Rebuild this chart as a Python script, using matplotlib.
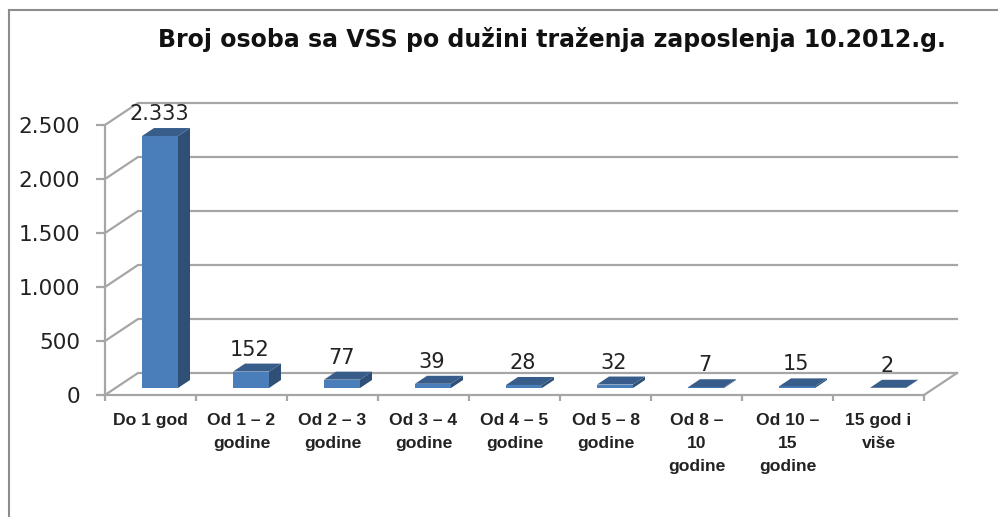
import matplotlib
matplotlib.use("Agg")
import matplotlib.pyplot as plt
from matplotlib.patches import Polygon

# Дані з діаграми
categories = ["Do 1 god", "Od 1 – 2\ngodine", "Od 2 – 3\ngodine", "Od 3 – 4\ngodine",
              "Od 4 – 5\ngodine", "Od 5 – 8\ngodine", "Od 8 –\n10\ngodine",
              "Od 10 –\n15\ngodine", "15 god i\nviše"]
values = [2333, 152, 77, 39, 28, 32, 7, 15, 2]
value_labels = ["2.333", "152", "77", "39", "28", "32", "7", "15", "2"]
y_ticks = [0, 500, 1000, 1500, 2000, 2500]
y_tick_labels = ["0", "500", "1.000", "1.500", "2.000", "2.500"]
title = "Broj osoba sa VSS po dužini traženja zaposlenja 10.2012.g."

W, H = 998, 517
GRAY = "#a6a6a6"
FRONT = "#4a7ebb"
SIDE = "#2f4f77"
TOP = "#385d8a"

fig = plt.figure(figsize=(W / 100, H / 100), dpi=100, facecolor="white")
ax = fig.add_axes([105 / W, 1 - 395 / H, 819 / W, 270 / H])
ax.set_xlim(0, len(categories))
ax.set_ylim(0, 2500)
ax.patch.set_visible(False)

# Зсув задньої стінки в одиницях осей
px_x = len(categories) / 819
px_y = 2500 / 270
back_x, back_y = 33 * px_x, 22 * px_y

# Підлога і сітка на задній стінці
for t in y_ticks:
    ax.plot([0, back_x, len(categories) + back_x], [t, t + back_y, t + back_y],
            color=GRAY, lw=1.6, clip_on=False, zorder=1)
ax.plot([len(categories), len(categories) + back_x], [0, back_y], color=GRAY, lw=1.6,
        clip_on=False, zorder=1)

# Стовпчики
bar_w = 36 * px_x
depth_x, depth_y = 12 * px_x, 8 * px_y
shift_x, shift_y = 9.5 * px_x, 7 * px_y
for i, v in enumerate(values):
    x0 = i + 0.5 - bar_w / 2 + shift_x
    x1 = x0 + bar_w
    y0 = shift_y
    y1 = y0 + v
    ax.add_patch(Polygon([(x0, y0), (x1, y0), (x1, y1), (x0, y1)], fc=FRONT, ec="none",
                         clip_on=False, zorder=3))
    ax.add_patch(Polygon([(x1, y0), (x1 + depth_x, y0 + depth_y), (x1 + depth_x, y1 + depth_y),
                          (x1, y1)], fc=SIDE, ec="none", clip_on=False, zorder=3))
    ax.add_patch(Polygon([(x0, y1), (x1, y1), (x1 + depth_x, y1 + depth_y),
                          (x0 + depth_x, y1 + depth_y)], fc=TOP, ec="none", clip_on=False, zorder=3))
    ax.text(i + 0.5 + shift_x - 1 * px_x, y1 + depth_y + 4 * px_y, value_labels[i],
            ha="center", va="bottom", fontsize=15, color="#222222", clip_on=False, zorder=4)

# Осі
for s in ["top", "right"]:
    ax.spines[s].set_visible(False)
for s in ["left", "bottom"]:
    ax.spines[s].set_color(GRAY)
    ax.spines[s].set_linewidth(1.6)
ax.set_yticks(y_ticks)
ax.set_yticklabels(y_tick_labels, fontsize=15.6, color="#222222")
ax.tick_params(axis="y", color=GRAY, width=1.6, length=6.5, pad=11.5)
ax.set_xticks(range(len(categories) + 1))
ax.set_xticklabels([])
ax.tick_params(axis="x", color=GRAY, width=1.6, length=4.5)
ax.set_xticks([i + 0.5 for i in range(len(categories))], minor=True)
ax.set_xticklabels(categories, minor=True, fontsize=12.6, fontweight="bold", color="#222222",
                   family="Liberation Sans", linespacing=1.65)
ax.tick_params(axis="x", which="minor", length=0, pad=13)

fig.text(551.5 / W, 1 - 40 / H, title, ha="center", va="center", fontsize=17,
         fontweight="bold", color="#111111", family="DejaVu Sans")

# Рамка діаграми
fig.add_artist(plt.Line2D([8.5 / W, 8.5 / W], [0, 1 - 10 / H], color="#8c8c8c", lw=1.5))
fig.add_artist(plt.Line2D([8.5 / W, 1], [1 - 10 / H, 1 - 10 / H], color="#8c8c8c", lw=1.5))

fig.savefig("out.png", dpi=100)
